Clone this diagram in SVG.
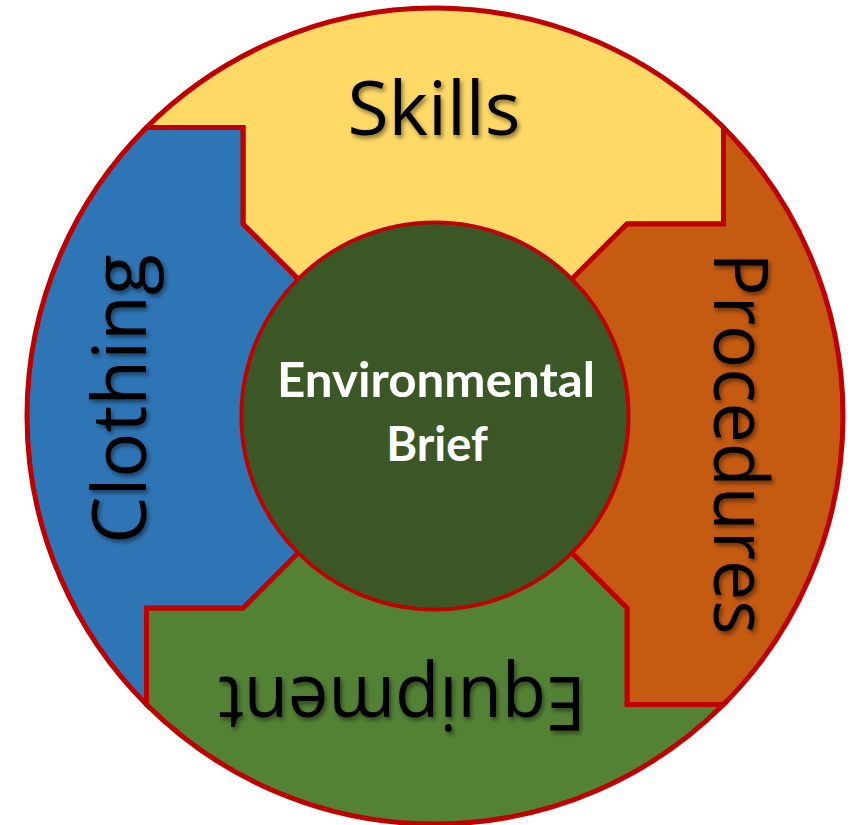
<svg xmlns="http://www.w3.org/2000/svg" width="856" height="825" viewBox="0 0 856 825">
  <defs>
    <filter id="shadow" x="-20%" y="-20%" width="140%" height="140%">
      <feDropShadow dx="2" dy="3" stdDeviation="2" flood-color="#000" flood-opacity="0.45"/>
    </filter>
  </defs>
  <style>
    .seg { stroke: #C00000; stroke-width: 5; stroke-linejoin: miter; }
    .label { font-family: "Open Sans", "Noto Sans", sans-serif; font-size: 75px; fill: #000; text-anchor: middle; }
    .center { font-family: Lato, "Open Sans", sans-serif; font-weight: bold; font-size: 47px; fill: #fff; text-anchor: middle; }
  </style>
  <rect width="856" height="825" fill="#fff"/>
  <g id="skills">
    <path class="seg" fill="#FFD966" d="M146.5,127.5 A408,408 0 0 1 723.5,127.5 L723.5,224 L627,224 L571.5,279.5 A193,193 0 0 0 298.5,279.5 L243,224 L243,127.5 Z"/>
    <g filter="url(#shadow)"><text class="label" x="434" y="135">Skills</text></g>
  </g>
  <g id="procedures">
    <path class="seg" fill="#C55A11" d="M723.5,127.5 A408,408 0 0 1 723.5,704.5 L627,704.5 L627,608 L571.5,552.5 A193,193 0 0 0 571.5,279.5 L627,224 L723.5,224 Z"/>
    <g filter="url(#shadow)"><text class="label" transform="translate(714,443.5) rotate(90)" x="0" y="0" textLength="382" lengthAdjust="spacingAndGlyphs">Procedures</text></g>
  </g>
  <g id="equipment">
    <path class="seg" fill="#548235" d="M723.5,704.5 A408,408 0 0 1 146.5,704.5 L146.5,608 L243,608 L298.5,552.5 A193,193 0 0 0 571.5,552.5 L627,608 L627,704.5 Z"/>
    <g filter="url(#shadow)"><text class="label" transform="translate(402,677) rotate(180)" x="0" y="0" textLength="368" lengthAdjust="spacingAndGlyphs">Equipment</text></g>
  </g>
  <g id="clothing">
    <path class="seg" fill="#2E75B6" d="M146.5,704.5 A408,408 0 0 1 146.5,127.5 L243,127.5 L243,224 L298.5,279.5 A193,193 0 0 0 298.5,552.5 L243,608 L146.5,608 Z"/>
    <g filter="url(#shadow)"><text class="label" transform="translate(146,399) rotate(-90)" x="0" y="0">Clothing</text></g>
  </g>
  <g id="environmental-brief">
    <circle cx="435" cy="416" r="193" fill="#3B5726" stroke="#C00000" stroke-width="2.5"/>
    <text class="center" x="436" y="397" textLength="318" lengthAdjust="spacingAndGlyphs">Environmental</text>
    <text class="center" x="437" y="461">Brief</text>
  </g>
  <g id="connectors"/>
</svg>
